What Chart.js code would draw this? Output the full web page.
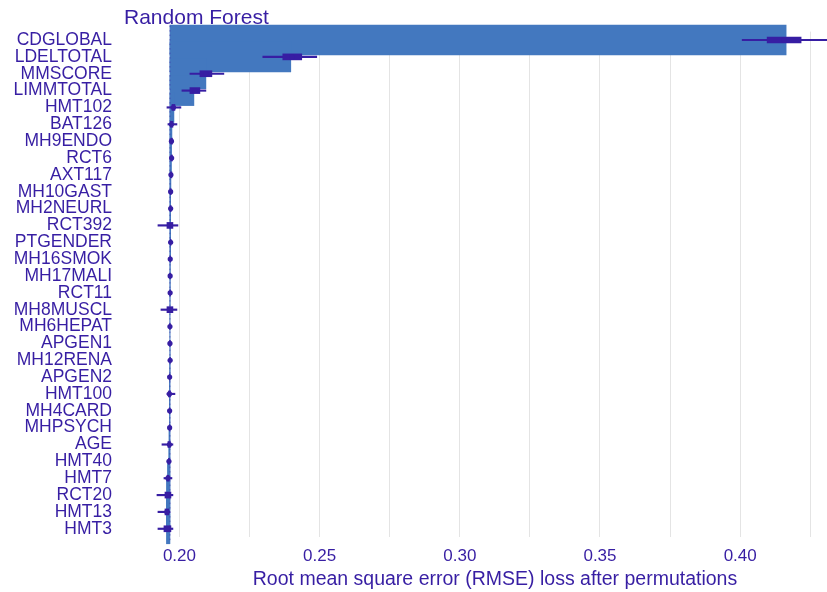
<!DOCTYPE html>
<html>
<head>
<meta charset="utf-8">
<script src="https://cdn.jsdelivr.net/npm/chart.js@4/dist/chart.umd.min.js"></script>
<style>
  html, body { margin: 0; padding: 0; background: #fff; }
  /* the panel runs past the right edge of the picture, as in the reference */
  #clip { width: 827px; height: 592px; overflow: hidden; }
  #wrap { width: 872px; height: 592px; }
</style>
</head>
<body>
<div id="clip"><div id="wrap"><canvas id="vip"></canvas></div></div>
<script>
const variables = ['CDGLOBAL', 'LDELTOTAL', 'MMSCORE', 'LIMMTOTAL', 'HMT102', 'BAT126', 'MH9ENDO', 'RCT6',
  'AXT117', 'MH10GAST', 'MH2NEURL', 'RCT392', 'PTGENDER', 'MH16SMOK', 'MH17MALI', 'RCT11', 'MH8MUSCL',
  'MH6HEPAT', 'APGEN1', 'MH12RENA', 'APGEN2', 'HMT100', 'MH4CARD', 'MHPSYCH', 'AGE', 'HMT40', 'HMT7',
  'RCT20', 'HMT13', 'HMT3'];

// mean dropout loss (bar end)
const meanLoss = [0.41639, 0.23972, 0.20944, 0.20516, 0.19804, 0.19733, 0.19715, 0.19715,
  0.19697, 0.19687, 0.19687, 0.19662, 0.19687, 0.19672, 0.19669, 0.19669, 0.19662,
  0.19662, 0.19662, 0.19669, 0.19651, 0.19644, 0.19651, 0.19651, 0.19626, 0.19626, 0.19573,
  0.19537, 0.19537, 0.19537];

// boxplot of permutation losses
const lossMin = [0.40071, 0.22974, 0.20374, 0.20089, 0.19555, 0.19590, 0.19679, 0.19679,
  0.19662, 0.19654, 0.19654, 0.19234, 0.19662, 0.19644, 0.19644, 0.19637, 0.19341,
  0.19637, 0.19637, 0.19644, 0.19626, 0.19555, 0.19626, 0.19626, 0.19377, 0.19590, 0.19448,
  0.19199, 0.19234, 0.19234];
const lossQ1 = [0.40962, 0.23687, 0.20730, 0.20374, 0.19733, 0.19679, 0.19697, 0.19697,
  0.19679, 0.19669, 0.19669, 0.19555, 0.19672, 0.19662, 0.19654, 0.19654, 0.19555,
  0.19647, 0.19647, 0.19654, 0.19640, 0.19608, 0.19637, 0.19637, 0.19590, 0.19608, 0.19555,
  0.19484, 0.19484, 0.19448];
const lossMedian = [0.41567, 0.24007, 0.20944, 0.20552, 0.19786, 0.19715, 0.19715, 0.19722,
  0.19697, 0.19687, 0.19687, 0.19662, 0.19687, 0.19672, 0.19669, 0.19669, 0.19662,
  0.19662, 0.19662, 0.19669, 0.19651, 0.19644, 0.19651, 0.19651, 0.19644, 0.19626, 0.19590,
  0.19590, 0.19555, 0.19573];
const lossQ3 = [0.42173, 0.24363, 0.21158, 0.20730, 0.19840, 0.19768, 0.19751, 0.19751,
  0.19733, 0.19708, 0.19708, 0.19768, 0.19704, 0.19690, 0.19683, 0.19683, 0.19768,
  0.19676, 0.19676, 0.19683, 0.19665, 0.19679, 0.19665, 0.19665, 0.19679, 0.19644, 0.19626,
  0.19697, 0.19626, 0.19697];
const lossMax = [0.43598, 0.24898, 0.21585, 0.20944, 0.20053, 0.19911, 0.19768, 0.19768,
  0.19751, 0.19733, 0.19733, 0.19947, 0.19722, 0.19708, 0.19704, 0.19704, 0.19911,
  0.19697, 0.19697, 0.19704, 0.19683, 0.19840, 0.19679, 0.19679, 0.19768, 0.19672, 0.19733,
  0.19768, 0.19662, 0.19768];

const fullModelLoss = 0.19662;
const xTicks = [0.2, 0.225, 0.25, 0.275, 0.3, 0.325, 0.35, 0.375, 0.4, 0.425];
const xTickLabels = ['0.20', '', '0.25', '', '0.30', '', '0.35', '', '0.40', ''];

const ink = '#371ea3';
const barBlue = '#4378bf';
const fam = "'Liberation Sans', Arial, sans-serif";

// panel title, left aligned with the plot area
const panelTitle = {
  id: 'panelTitle',
  afterDraw(chart) {
    const c = chart.ctx;
    c.save();
    c.fillStyle = ink;
    c.font = '21px ' + fam;
    c.textBaseline = 'middle';
    c.fillText('Random Forest', chart.chartArea.left + 2, 18);
    c.restore();
  }
};

// dotted line at the full model loss
const baseLine = {
  id: 'baseLine',
  afterDatasetsDraw(chart) {
    const c = chart.ctx;
    const x = chart.scales.x.getPixelForValue(fullModelLoss);
    c.save();
    c.strokeStyle = ink;
    c.globalAlpha = 0.5;
    c.lineWidth = 1;
    c.setLineDash([1.5, 3]);
    c.beginPath();
    c.moveTo(x, chart.chartArea.top - 6);
    c.lineTo(x, chart.chartArea.bottom + 4);
    c.stroke();
    c.restore();
  }
};

const ctx = document.getElementById('vip').getContext('2d');
const chart = new Chart(ctx, {
  type: 'bar',
  data: {
    labels: variables,
    datasets: [{
      label: 'median',
      type: 'line',
      data: variables.map((v, i) => ({ x: lossMedian[i], y: v })),
      showLine: false,
      pointRadius: 2.6,
      pointBackgroundColor: ink,
      pointBorderWidth: 0,
      order: 1,
      clip: false
    }, {
      label: 'box',
      data: variables.map((v, i) => [lossQ1[i], lossQ3[i]]),
      backgroundColor: ink,
      barThickness: 6,
      grouped: false,
      order: 2,
      clip: false
    }, {
      label: 'whisker',
      data: variables.map((v, i) => [lossMin[i], lossMax[i]]),
      backgroundColor: ink,
      barThickness: 1.5,
      grouped: false,
      order: 3,
      clip: false
    }, {
      label: 'loss',
      data: variables.map((v, i) => [fullModelLoss, meanLoss[i]]),
      backgroundColor: barBlue,
      barThickness: 30,
      grouped: false,
      order: 4,
      clip: false
    }]
  },
  options: {
    indexAxis: 'y',
    responsive: true,
    maintainAspectRatio: false,
    animation: false,
    layout: { padding: { top: 31.6, left: 0, right: 0, bottom: 0 } },
    plugins: {
      legend: { display: false },
      tooltip: { enabled: false }
    },
    scales: {
      x: {
        type: 'linear',
        min: 0.17952,
        max: 0.44559,
        afterBuildTicks: s => { s.ticks = xTicks.map(v => ({ value: v })); },
        ticks: {
          callback: (v, i) => xTickLabels[i],
          color: ink,
          font: { family: fam, size: 17 },
          padding: 9,
          maxRotation: 0,
          autoSkip: false
        },
        grid: { color: '#e4e4e4', lineWidth: 1, drawTicks: false },
        border: { display: false },
        title: {
          display: true,
          text: 'Root mean square error (RMSE) loss after permutations',
          color: ink,
          font: { family: fam, size: 19.5 },
          padding: { top: -8, bottom: 1 }
        }
      },
      y: {
        type: 'category',
        offset: true,
        afterFit: s => { s.width = 122; },
        ticks: {
          color: ink,
          font: { family: fam, size: 17.5 },
          padding: 10,
          autoSkip: false
        },
        grid: { display: false, drawTicks: false },
        border: { display: false }
      }
    }
  },
  plugins: [panelTitle, baseLine]
});
</script>
</body>
</html>
